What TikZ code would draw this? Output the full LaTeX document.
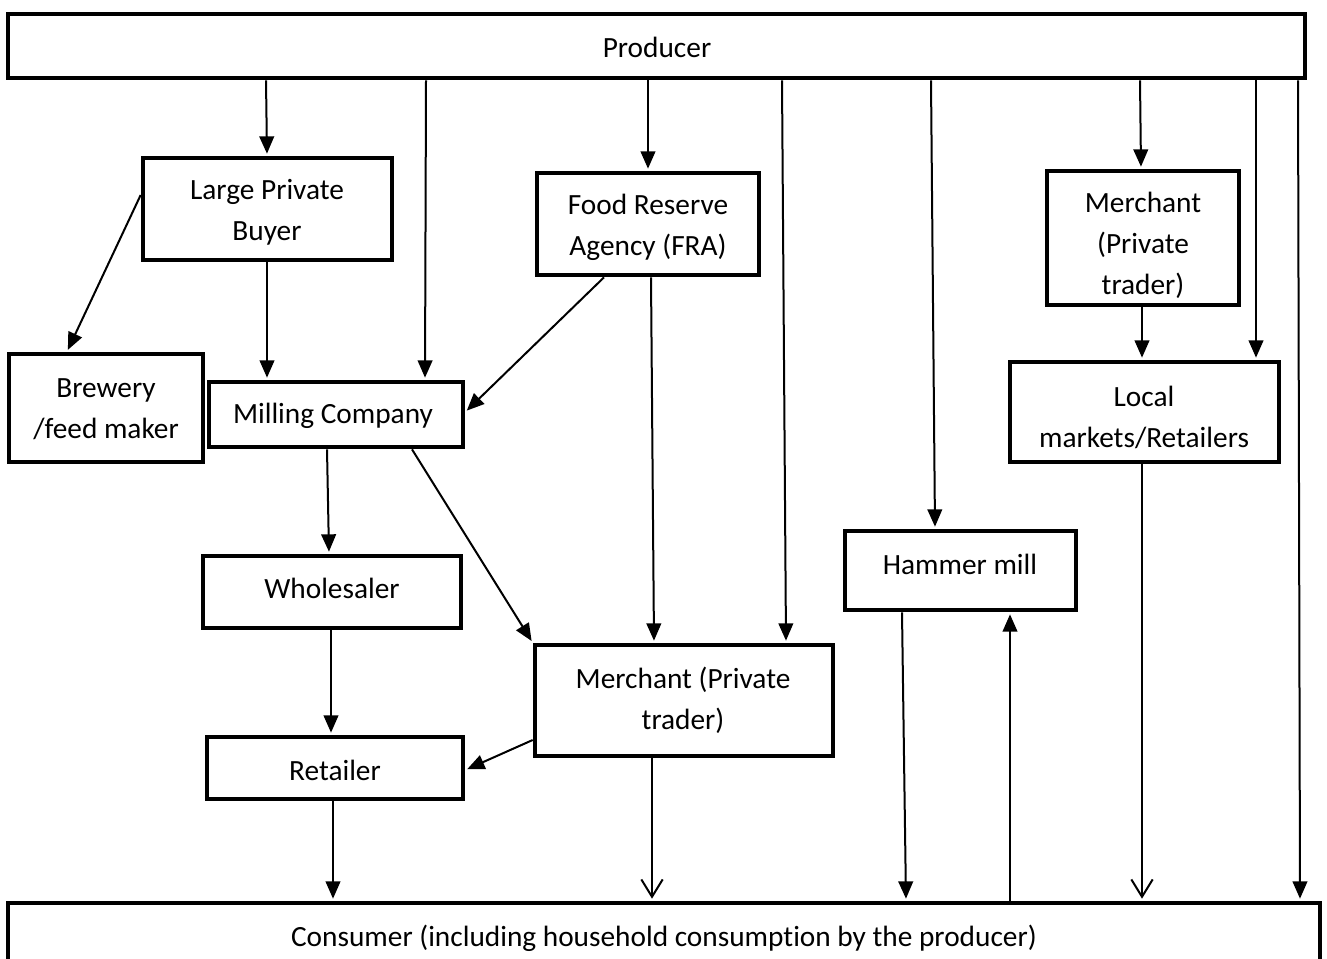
\documentclass[tikz,border=0pt]{standalone}
\usepackage{fontspec}
\setmainfont[Ligatures=NoCommon]{Carlito}
\usetikzlibrary{arrows.meta,fit}
\tikzset{
  box/.style={draw, line width=3.5pt, inner sep=0pt, rectangle},
  txt/.style={align=center, inner sep=0pt, font=\fontsize{22}{30.75}\selectfont},
  arr/.style={line width=1.5pt, -{Triangle[length=13pt,width=11pt]}, shorten >=1.5pt},
  varr/.style={line width=1.5pt, -{Straight Barb[length=13pt,width=16pt,line width=1.5pt]}, shorten >=1.5pt},
}
\begin{document}
\begin{tikzpicture}[x=0.75pt,y=-0.75pt]
\useasboundingbox (0,0) rectangle (1327,958);
\begin{scope}
\clip (0,0) rectangle (1327,958);
% boxes
\node[box, fit={(8,14) (1305,78)}] (prod) {};
\node[box, fit={(8,903) (1320,990)}] (cons) {};
\node[box, fit={(143,158) (392,260)}] (lpb) {};
\node[box, fit={(537,173) (759,275)}] (fra) {};
\node[box, fit={(1047,171) (1239,305)}] (mt) {};
\node[box, fit={(9,354) (203,462)}] (brew) {};
\node[box, fit={(209,382) (463,447)}] (mill) {};
\node[box, fit={(1010,362) (1279,462)}] (local) {};
\node[box, fit={(845,531) (1076,610)}] (ham) {};
\node[box, fit={(203,556) (461,628)}] (whole) {};
\node[box, fit={(535,645) (833,756)}] (mm) {};
\node[box, fit={(207,737) (463,799)}] (ret) {};
\end{scope}
% texts
\node[txt] (tprod) at (657,47) {Producer};
\node[txt] (tcons) at (664,938) {Consumer (including household consumption by the producer)};
\node[txt] (tlpb) at (267,212) {Large Private\\Buyer};
\node[txt] (tfra) at (648,227) {Food Reserve\\Agency (FRA)};
\node[txt] (tmt) at (1143,245) {Merchant\\(Private\\trader)};
\node[txt] (tbrew) at (106,409) {Brewery\\/feed maker};
\node[txt] (tmill) at (333,416) {Milling Company};
\node[txt] (tlocal) at (1144,417) {Local\\markets/Retailers};
\node[txt] (tham) at (960,564) {Hammer mill};
\node[txt] (twhole) at (332,588) {Wholesaler};
\node[txt] (tmm) at (683,700) {Merchant (Private\\trader)};
\node[txt] (tret) at (335,770) {Retailer};
% connectors from producer
\draw[arr] (prod.south -| 266,0) -- (lpb.north -| 267,0);
\draw[arr] (prod.south -| 426,0) -- (mill.north -| 425,0);
\draw[arr] (prod.south -| 648,0) -- (fra.north -| 648,0);
\draw[arr] (prod.south -| 782,0) -- (mm.north -| 786,0);
\draw[arr] (prod.south -| 931,0) -- (ham.north -| 935,0);
\draw[arr] (prod.south -| 1140,0) -- (mt.north -| 1141,0);
\draw[arr] (prod.south -| 1256,0) -- (local.north -| 1256,0);
\draw[arr] (prod.south -| 1298,0) -- (cons.north -| 1300,0);
% others
\draw[arr] (lpb.west |- 0,195) -- (brew.north -| 67,0);
\draw[arr] (lpb.south -| 267,0) -- (mill.north -| 267,0);
\draw[arr] (fra.south -| 604,0) -- (mill.east |- 0,412);
\draw[arr] (fra.south -| 651,0) -- (mm.north -| 654,0);
\draw[arr] (mt.south -| 1142,0) -- (local.north -| 1142,0);
\draw[arr] (mill.south -| 327,0) -- (whole.north -| 329,0);
\draw[arr] (mill.south -| 412,0) -- (mm.north west);
\draw[arr] (whole.south -| 331,0) -- (ret.north -| 331,0);
\draw[arr] (mm.west |- 0,740) -- (ret.east |- 0,770);
\draw[arr] (ret.south -| 333,0) -- (cons.north -| 333,0);
\draw[varr] (mm.south -| 652,0) -- (cons.north -| 652,0);
\draw[arr] (ham.south -| 902,0) -- (cons.north -| 906,0);
\draw[arr] (cons.north -| 1010,0) -- (ham.south -| 1010,0);
\draw[varr] (local.south -| 1142,0) -- (cons.north -| 1142,0);
\end{tikzpicture}
\end{document}
